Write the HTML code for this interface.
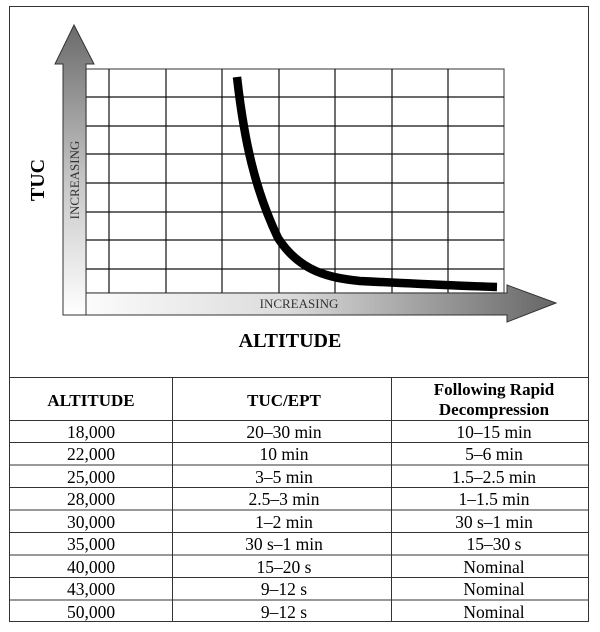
<!DOCTYPE html>
<html><head><style>
html,body{margin:0;padding:0;background:#fff;}
svg{display:block;}
text{font-family:"Liberation Serif",serif;}
</style></head><body>
<svg width="600" height="632" viewBox="0 0 600 632" xmlns="http://www.w3.org/2000/svg">
<defs>
<linearGradient id="gy" x1="0" y1="1" x2="0" y2="0">
<stop offset="0" stop-color="#ffffff"/><stop offset="0.45" stop-color="#c8c8c8"/><stop offset="1" stop-color="#6a6a6a"/>
</linearGradient>
<linearGradient id="gx" x1="0" y1="0" x2="1" y2="0">
<stop offset="0" stop-color="#ffffff"/><stop offset="0.45" stop-color="#dcdcdc"/><stop offset="1" stop-color="#666"/>
</linearGradient>
</defs>
<rect x="9.5" y="6.5" width="579" height="615" fill="#fff" stroke="#333" stroke-width="1"/>
<g stroke="#111" stroke-width="1.2" fill="none">
<rect x="86" y="69" width="418" height="224" stroke="#555"/>
<line x1="109" y1="69" x2="109" y2="293"/><line x1="166" y1="69" x2="166" y2="293"/>
<line x1="222" y1="69" x2="222" y2="293"/><line x1="279" y1="69" x2="279" y2="293"/>
<line x1="335" y1="69" x2="335" y2="293"/><line x1="392" y1="69" x2="392" y2="293"/>
<line x1="448" y1="69" x2="448" y2="293"/>
<line x1="86" y1="97" x2="504" y2="97"/><line x1="86" y1="126" x2="504" y2="126"/>
<line x1="86" y1="154" x2="504" y2="154"/><line x1="86" y1="183" x2="504" y2="183"/>
<line x1="86" y1="212" x2="504" y2="212"/><line x1="86" y1="240" x2="504" y2="240"/>
<line x1="86" y1="269" x2="504" y2="269"/>
</g>
<path d="M63,315 L63,64 L55,64 L74,25 L94,64 L86,64 L86,315 Z" fill="url(#gy)" stroke="#333" stroke-width="1"/>
<path d="M86,293 L507,293 L507,285 L556,303 L507,322 L507,315 L63,315 L86,315 Z" fill="url(#gx)" stroke="#333" stroke-width="1"/>
<line x1="86" y1="293" x2="86" y2="315" stroke="#333"/>
<path d="M237,77 C244,140 255,190 278,238 C300,272 330,278 360,281 C420,284 460,286 497,287" fill="none" stroke="#000" stroke-width="8.5"/>
<text x="299" y="308" font-size="13" text-anchor="middle" fill="#333">INCREASING</text>
<text transform="translate(79,180) rotate(-90)" font-size="13" text-anchor="middle" fill="#333">INCREASING</text>
<text transform="translate(44,180) rotate(-90)" font-size="20" font-weight="bold" text-anchor="middle">TUC</text>
<text x="290" y="347" font-size="20" font-weight="bold" text-anchor="middle">ALTITUDE</text>
<g stroke="#333" stroke-width="1">
<line x1="9" y1="377.5" x2="589" y2="377.5"/>
<line x1="9" y1="420.5" x2="589" y2="420.5"/>
<line x1="9" y1="442.5" x2="589" y2="442.5"/><line x1="9" y1="465" x2="589" y2="465"/>
<line x1="9" y1="487.5" x2="589" y2="487.5"/><line x1="9" y1="510" x2="589" y2="510"/>
<line x1="9" y1="532.5" x2="589" y2="532.5"/><line x1="9" y1="555" x2="589" y2="555"/>
<line x1="9" y1="577.5" x2="589" y2="577.5"/><line x1="9" y1="600" x2="589" y2="600"/>
<line x1="172.5" y1="377" x2="172.5" y2="622"/><line x1="391.5" y1="377" x2="391.5" y2="622"/>
</g>
<g font-size="17.5" text-anchor="middle">
<text x="91" y="406" font-weight="bold" font-size="17">ALTITUDE</text>
<text x="284" y="406" font-weight="bold" font-size="17">TUC/EPT</text>
<text x="494" y="395" font-weight="bold" font-size="17">Following Rapid</text>
<text x="494" y="415" font-weight="bold" font-size="17">Decompression</text>
<text x="91" y="438">18,000</text><text x="284" y="438">20–30 min</text><text x="494" y="438">10–15 min</text>
<text x="91" y="460">22,000</text><text x="284" y="460">10 min</text><text x="494" y="460">5–6 min</text>
<text x="91" y="483">25,000</text><text x="284" y="483">3–5 min</text><text x="494" y="483">1.5–2.5 min</text>
<text x="91" y="505">28,000</text><text x="284" y="505">2.5–3 min</text><text x="494" y="505">1–1.5 min</text>
<text x="91" y="528">30,000</text><text x="284" y="528">1–2 min</text><text x="494" y="528">30 s–1 min</text>
<text x="91" y="550">35,000</text><text x="284" y="550">30 s–1 min</text><text x="494" y="550">15–30 s</text>
<text x="91" y="573">40,000</text><text x="284" y="573">15–20 s</text><text x="494" y="573">Nominal</text>
<text x="91" y="595">43,000</text><text x="284" y="595">9–12 s</text><text x="494" y="595">Nominal</text>
<text x="91" y="618">50,000</text><text x="284" y="618">9–12 s</text><text x="494" y="618">Nominal</text>
</g>
</svg>
</body></html>
